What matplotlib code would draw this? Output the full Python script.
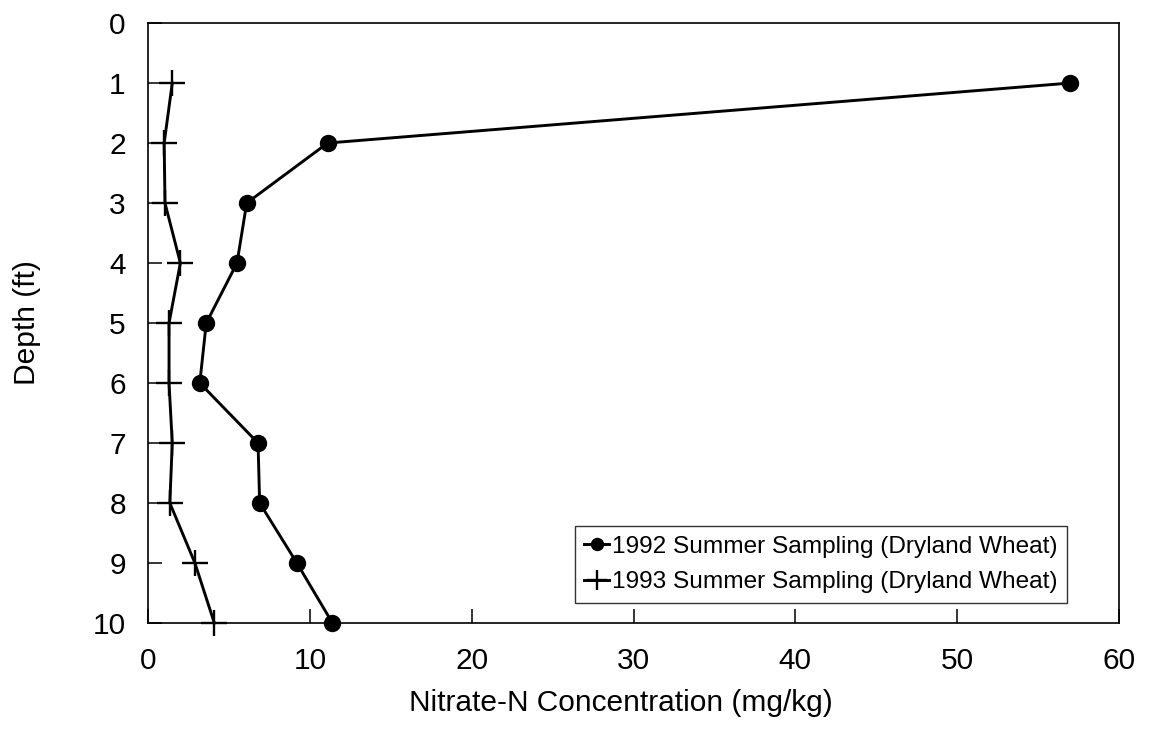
import matplotlib
matplotlib.use("Agg")
import matplotlib.pyplot as plt

plt.rcParams['font.family'] = ['Liberation Sans', 'DejaVu Sans']

# depth (ft) for both samplings
depth = [1, 2, 3, 4, 5, 6, 7, 8, 9, 10]

# nitrate-N (mg/kg)
nitrate_1992 = [57.0, 11.1, 6.1, 5.5, 3.6, 3.2, 6.8, 6.9, 9.2, 11.4]
nitrate_1993 = [1.5, 1.0, 1.05, 2.0, 1.3, 1.3, 1.5, 1.35, 2.9, 4.1]

label_1992 = '1992 Summer Sampling (Dryland Wheat)'
label_1993 = '1993 Summer Sampling (Dryland Wheat)'

x_ticks = [0, 10, 20, 30, 40, 50, 60]
y_ticks = [0, 1, 2, 3, 4, 5, 6, 7, 8, 9, 10]


def main():
    fig = plt.figure(figsize=(11.49, 7.31), dpi=100)
    ax = fig.add_axes([0.1288, 0.1477, 0.8451, 0.8208])

    ax.plot(nitrate_1992, depth, color='black', lw=2.1, marker='o',
            markersize=11.5, label=label_1992, clip_on=False, zorder=3)
    ax.plot(nitrate_1993, depth, color='black', lw=2.1, marker='+',
            markersize=19, markeredgewidth=1.7, label=label_1993,
            clip_on=False, zorder=3)

    ax.set_xlim(0, 60)
    ax.set_ylim(10, 0)
    ax.set_xticks(x_ticks)
    ax.set_yticks(y_ticks)

    for s in ax.spines.values():
        s.set_linewidth(1.2)

    ax.tick_params(axis='both', direction='in', length=10, width=1.1,
                   labelsize=21.5, top=False, right=False)
    ax.tick_params(axis='x', pad=17)
    ax.tick_params(axis='y', pad=16)

    ax.set_xlabel('Nitrate-N Concentration (mg/kg)', fontsize=21.5)
    ax.set_ylabel('Depth (ft)', fontsize=21.5)
    ax.xaxis.set_label_coords(0.487, -0.11)
    ax.yaxis.set_label_coords(-0.110, 0.5)

    leg = ax.legend(loc='lower right', bbox_to_anchor=(0.9465, 0.0333),
                    borderaxespad=0, fontsize=17.6, frameon=True,
                    fancybox=False, edgecolor='black', handlelength=1.0,
                    handletextpad=0.12, borderpad=0.4, labelspacing=0.55,
                    numpoints=1)
    leg.get_frame().set_linewidth(1.0)
    # smaller markers in the legend
    for h in leg.legend_handles:
        h.set_markersize(h.get_markersize() * 0.75)

    fig.savefig('out.png', dpi=100)


if __name__ == '__main__':
    main()
